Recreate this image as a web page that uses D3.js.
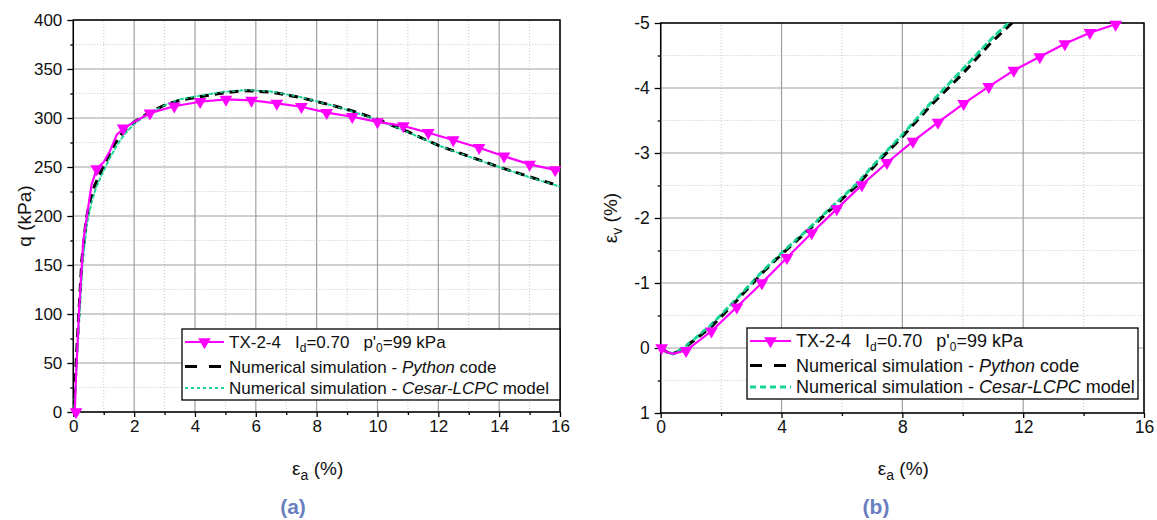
<!DOCTYPE html>
<html><head><meta charset="utf-8">
<script src="https://cdn.jsdelivr.net/npm/d3@7"></script>
<style>
html,body{margin:0;padding:0;background:#fff;}
svg{display:block;font-family:"Liberation Sans",Arial,sans-serif;}
</style></head>
<body><svg id="c" width="1157" height="520"></svg>
<script>
// ---------- DATA ----------
// (a) q vs axial strain
const qExpStrain = [0.05,0.08,0.19,0.33,0.47,0.6,0.77,1.0,1.2,1.43,1.64,2.0,2.52,3.32,4.17,5.02,5.86,6.69,7.5,8.33,9.17,10.0,10.85,11.67,12.49,13.34,14.16,15.0,15.84,16.0];
const qExp       = [0,30,104,175,205,232,248,255,266,283,289,296,305,312,316.6,319,318,315,311.5,305.5,301.3,296,292,285,277.6,269.7,261,252.7,247,246];
const qMarkStrain = [0.09,0.77,1.64,2.52,3.32,4.17,5.02,5.86,6.69,7.5,8.33,9.17,10.0,10.85,11.67,12.49,13.34,14.16,15.0,15.84];
const qMark       = [0,248,289.5,305,312,316.6,319,318,315,311.5,305.4,301.3,296,292,285,277.6,269.7,261,252.7,247];
const qPyStrain = [0,0.03,0.06,0.1,0.17,0.28,0.42,0.55,0.7,0.88,1.1,1.35,1.64,2.0,2.52,3.0,3.5,4.16,4.8,5.64,6.5,7.45,8.5,9.2,10.0,11.0,12.0,13.0,14.0,15.0,16.0];
const qPy       = [0,12,26,55,94,155,196,216,231,243.5,258,273,286,296,306,313,318,321.7,325,327.9,326.5,321,313,307,298.6,286,272,261,250,240,230.6];
const qCeStrain = [0,0.04,0.08,0.12,0.2,0.3,0.45,0.6,0.75,0.95,1.2,1.45,1.7,2.0,2.5,3.0,3.5,4.2,4.9,5.7,6.5,7.45,8.5,9.2,10,11,12,13,14,15,16];
const qCe       = [0,12,30,55,95,150,192,214,229,243,259,273,284,294,305,313,319,323,326.5,328.5,327,321.5,313,306.5,298,285.5,272,260.5,250,239.5,230];
const qTicksX = [0,2,4,6,8,10,12,14,16];
const qTicksY = [0,50,100,150,200,250,300,350,400];

// (b) volumetric strain vs axial strain
const vExpStrain = [0,0.2,0.4,0.84,1.68,2.52,3.35,4.18,5.0,5.83,6.66,7.49,8.35,9.18,10.03,10.86,11.69,12.55,13.38,14.21,15.06,15.5];
const vExp       = [0,0.06,0.09,0.04,-0.26,-0.63,-1.0,-1.39,-1.77,-2.14,-2.51,-2.85,-3.18,-3.47,-3.76,-4.02,-4.27,-4.48,-4.68,-4.85,-4.98,-5.05];
const vMarkStrain = [0.03,0.84,1.68,2.52,3.35,4.18,5.0,5.83,6.66,7.49,8.35,9.18,10.03,10.86,11.69,12.55,13.38,14.21,15.06];
const vMark       = [0,0.04,-0.26,-0.63,-1.0,-1.39,-1.77,-2.14,-2.51,-2.85,-3.18,-3.47,-3.76,-4.02,-4.27,-4.48,-4.68,-4.85,-4.98];
const vPyStrain = [0,0.2,0.4,0.6,0.8,1.2,1.68,2.5,3.35,4.0,5.0,5.5,6.5,7.27,8.0,9.0,10.0,10.9,11.63,11.8];
const vPy       = [0,0.06,0.09,0.05,-0.01,-0.15,-0.33,-0.72,-1.15,-1.44,-1.86,-2.08,-2.5,-2.9,-3.25,-3.76,-4.22,-4.68,-5.0,-5.08];
const vCeStrain = [0,0.2,0.4,0.6,0.8,1.2,1.68,2.5,3.35,4.0,5.0,5.5,6.5,7.27,8.0,9.0,10.0,11.0,11.52,11.7];
const vCe       = [0,0.06,0.09,0.04,-0.02,-0.17,-0.36,-0.75,-1.17,-1.46,-1.88,-2.1,-2.53,-2.93,-3.28,-3.8,-4.29,-4.78,-5.0,-5.08];
const vTicksX = [0,4,8,12,16];
const vTicksY = [1,0,-1,-2,-3,-4,-5];

const legendLabels = ["TX-2-4", "Numerical simulation - ", "Numerical simulation - "];

// ---------- STYLE ----------
const MAG = "#ff00ff", GRN = "#19d596", CAP = "#6a7fbf";
const svg = d3.select("#c");
const zip = (a,b) => a.map((v,i)=>[v,b[i]]);
const fmt = d => String(d);

function panel(o) {
  const g = svg.append("g");
  const x = d3.scaleLinear().domain(o.xd).range([o.x0, o.x1]);
  const y = d3.scaleLinear().domain(o.yd).range([o.y0, o.y1]);
  const id = "clip" + o.name;
  svg.append("clipPath").attr("id", id).append("rect")
    .attr("x", o.x0).attr("y", o.y1).attr("width", o.x1 - o.x0).attr("height", o.y0 - o.y1);

  // grid
  const grid = g.append("g");
  o.minX.forEach(v => grid.append("line").attr("x1", x(v)).attr("x2", x(v)).attr("y1", o.y0).attr("y2", o.y1)
    .attr("stroke", "#c8c8c8").attr("stroke-dasharray", "1,2").attr("stroke-width", 1));
  o.minY.forEach(v => grid.append("line").attr("y1", y(v)).attr("y2", y(v)).attr("x1", o.x0).attr("x2", o.x1)
    .attr("stroke", "#c8c8c8").attr("stroke-dasharray", "1,2").attr("stroke-width", 1));
  o.tx.forEach(v => grid.append("line").attr("x1", x(v)).attr("x2", x(v)).attr("y1", o.y0).attr("y2", o.y1)
    .attr("stroke", "#a0a0a0").attr("stroke-width", 1.2));
  o.ty.forEach(v => grid.append("line").attr("y1", y(v)).attr("y2", y(v)).attr("x1", o.x0).attr("x2", o.x1)
    .attr("stroke", "#a0a0a0").attr("stroke-width", 1.2));

  // axes
  const ax = d3.axisBottom(x).tickValues(o.tx).tickSize(5).tickPadding(3).tickFormat(fmt);
  const axm = d3.axisBottom(x).tickValues(o.minX).tickSize(3).tickFormat("");
  const ay = d3.axisLeft(y).tickValues(o.ty).tickSize(6).tickPadding(5).tickFormat(fmt);
  const aym = d3.axisLeft(y).tickValues(o.minY).tickSize(3).tickFormat("");
  [[ax, "b"], [axm, "b"], [ay, "l"], [aym, "l"]].forEach(([a, s]) => {
    const ga = g.append("g").attr("transform", s === "b" ? `translate(0,${o.y0})` : `translate(${o.x0},0)`).call(a);
    ga.select(".domain").remove();
    ga.selectAll("line").attr("stroke", "#000").attr("stroke-width", 1.3);
    ga.selectAll("text").attr("font-size", o.tfs).attr("fill", "#111").attr("font-family", "Liberation Sans, Arial, sans-serif");
  });
  g.append("rect").attr("x", o.x0).attr("y", o.y1).attr("width", o.x1 - o.x0).attr("height", o.y0 - o.y1)
    .attr("fill", "none").attr("stroke", "#000").attr("stroke-width", 1.5);

  // series
  const line = d3.line().x(d => x(d[0])).y(d => y(d[1]));
  const sg = g.append("g").attr("clip-path", `url(#${id})`);
  sg.append("path").datum(zip(o.ceX, o.ceY)).attr("d", line).attr("fill", "none")
    .attr("stroke", GRN).attr("stroke-width", o.ceW).attr("stroke-dasharray", o.ceDash);
  sg.append("path").datum(zip(o.pyX, o.pyY)).attr("d", line).attr("fill", "none")
    .attr("stroke", "#000").attr("stroke-width", 3).attr("stroke-dasharray", "9,6");
  sg.append("path").datum(zip(o.ceX, o.ceY)).attr("d", line).attr("fill", "none")
    .attr("stroke", GRN).attr("stroke-width", o.ceW * 0.8).attr("stroke-dasharray", o.ceDash).attr("stroke-dashoffset", 2).attr("opacity", 0.9);
  sg.append("path").datum(zip(o.exX, o.exY)).attr("d", line).attr("fill", "none")
    .attr("stroke", MAG).attr("stroke-width", 2.2);
  const tri = d3.symbol().type(d3.symbolTriangle).size(70);
  g.append("g").selectAll("path").data(zip(o.mkX, o.mkY)).join("path")
    .attr("d", tri).attr("fill", MAG)
    .attr("transform", d => `translate(${x(d[0])},${y(d[1])}) rotate(180)`);

  // axis titles
  const xt = svg.append("text").attr("x", (o.x0 + o.x1) / 2 + 1).attr("y", 475).attr("text-anchor", "middle")
    .attr("font-size", 19).attr("fill", "#111");
  xt.append("tspan").text("ε");
  xt.append("tspan").text("a").attr("font-size", 14).attr("dy", 5);
  xt.append("tspan").text(" (%)").attr("dy", -5);
  const yt = svg.append("text").attr("transform", `translate(${o.ytx},${(o.y0 + o.y1) / 2}) rotate(-90)`)
    .attr("text-anchor", "middle").attr("font-size", 19).attr("fill", "#111");
  if (o.name === "a") { yt.text("q (kPa)"); }
  else {
    yt.append("tspan").text("ε");
    yt.append("tspan").text("v").attr("font-size", 14).attr("dy", 5);
    yt.append("tspan").text(" (%)").attr("dy", -5);
  }
  svg.append("text").attr("x", o.capX).attr("y", 514).attr("text-anchor", "middle")
    .attr("font-size", 21).attr("font-weight", "bold").attr("fill", CAP).text(o.cap);

  // legend
  const L = g.append("g").attr("transform", `translate(${o.lx},${o.ly})`);
  L.append("rect").attr("x", 0).attr("y", 0).attr("width", o.lw).attr("height", 71)
    .attr("fill", "#fff").attr("stroke", "#000").attr("stroke-width", 1.3);
  const rows = [13, 37.5, 59];
  const sx0 = 3, sx1 = o.sampleW;
  L.append("line").attr("x1", sx0).attr("x2", sx1).attr("y1", rows[0]).attr("y2", rows[0]).attr("stroke", MAG).attr("stroke-width", 2.2);
  L.append("path").attr("d", tri).attr("fill", MAG).attr("transform", `translate(${(sx0 + sx1) / 2},${rows[0]}) rotate(180)`);
  L.append("line").attr("x1", sx0).attr("x2", sx1).attr("y1", rows[1]).attr("y2", rows[1]).attr("stroke", "#000").attr("stroke-width", 3).attr("stroke-dasharray", "12,12");
  L.append("line").attr("x1", sx0).attr("x2", sx1).attr("y1", rows[2]).attr("y2", rows[2]).attr("stroke", GRN).attr("stroke-width", o.ceW).attr("stroke-dasharray", o.ceDash);
  const tx = sx1 + 5, fs = o.lfs;
  const t0 = L.append("text").attr("x", tx).attr("y", rows[0] + 6).attr("font-size", fs).attr("fill", "#111");
  t0.append("tspan").text(legendLabels[0]);
  t0.append("tspan").text("I").attr("dx", 14);
  t0.append("tspan").text("d").attr("font-size", 12).attr("dy", 4);
  t0.append("tspan").text("=0.70").attr("dy", -4);
  t0.append("tspan").text("p'").attr("dx", 14);
  t0.append("tspan").text("0").attr("font-size", 12).attr("dy", 4);
  t0.append("tspan").text("=99 kPa").attr("dy", -4);
  const t1 = L.append("text").attr("x", tx).attr("y", rows[1] + 6).attr("font-size", fs).attr("fill", "#111");
  t1.append("tspan").text(legendLabels[1]);
  t1.append("tspan").text("Python").attr("font-style", "italic");
  t1.append("tspan").text(" code");
  const t2 = L.append("text").attr("x", tx).attr("y", rows[2] + 6).attr("font-size", fs).attr("fill", "#111");
  t2.append("tspan").text(legendLabels[2]);
  t2.append("tspan").text("Cesar-LCPC").attr("font-style", "italic");
  t2.append("tspan").text(" model");
}

panel({
  name: "a", xd: [0, 16], yd: [0, 400], x0: 73.3, x1: 560, y0: 412, y1: 20,
  tx: qTicksX, ty: qTicksY, minX: [1,3,5,7,9,11,13,15], minY: [25,75,125,175,225,275,325,375],
  exX: qExpStrain, exY: qExp, mkX: qMarkStrain, mkY: qMark,
  pyX: qPyStrain, pyY: qPy, ceX: qCeStrain, ceY: qCe, ceW: 2, ceDash: "3,3",
  ytx: 31, cap: "(a)", capX: 293, lx: 182, ly: 329, lw: 378, sampleW: 42, tfs: 17, lfs: 17
});
panel({
  name: "b", xd: [0, 16], yd: [1, -5], x0: 660.7, x1: 1144, y0: 413, y1: 23,
  tx: vTicksX, ty: vTicksY, minX: [2,6,10,14], minY: [0.5,-0.5,-1.5,-2.5,-3.5,-4.5],
  exX: vExpStrain, exY: vExp, mkX: vMarkStrain, mkY: vMark,
  pyX: vPyStrain, pyY: vPy, ceX: vCeStrain, ceY: vCe, ceW: 3, ceDash: "6,4",
  ytx: 617, cap: "(b)", capX: 876, lx: 747, ly: 328, lw: 391, sampleW: 44, tfs: 17.5, lfs: 18
});
</script></body></html>
